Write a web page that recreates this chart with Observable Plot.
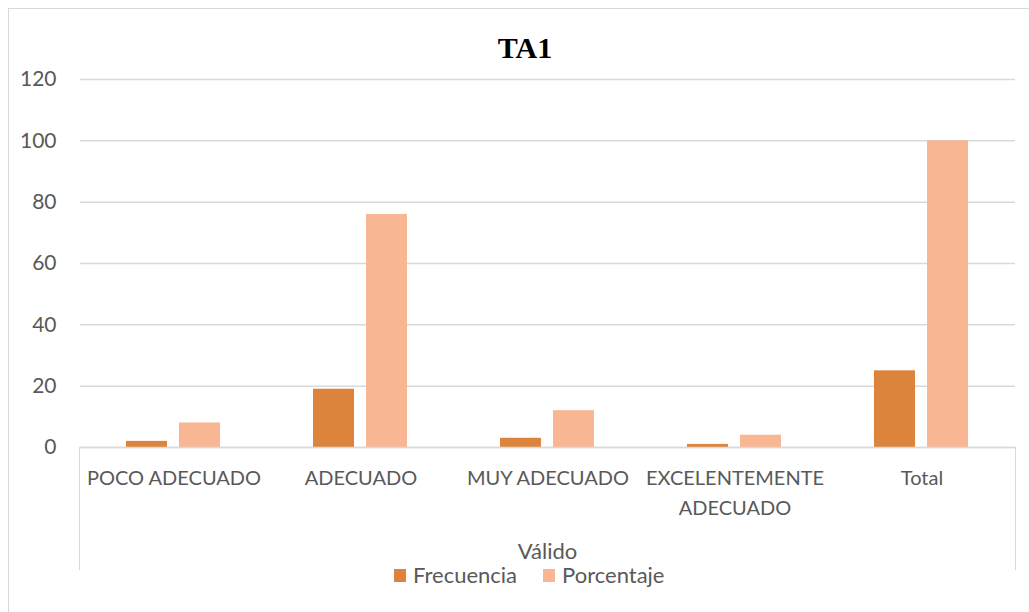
<!DOCTYPE html>
<html>
<head>
<meta charset="utf-8">
<script src="https://cdn.jsdelivr.net/npm/d3@7"></script>
<script src="https://cdn.jsdelivr.net/npm/@observablehq/plot@0.6"></script>
<style>
  html, body { margin: 0; padding: 0; background: #fff; overflow: hidden; }
  #wrap { position: relative; width: 1029px; height: 612px; overflow: hidden; font-family: Lato, "Open Sans", sans-serif; color: #595959; }
  #frame { position: absolute; left: 8px; top: 8px; width: 1100px; height: 700px; border: 1px solid #d9d9d9; box-sizing: border-box; }
  #title { position: absolute; left: 0; width: 1050px; top: 31px; text-align: center; font-family: "Liberation Serif", "DejaVu Serif", serif; font-weight: bold; font-size: 30px; color: #000; line-height: 34px; }
  .vline { position: absolute; width: 0; border-left: 1.5px solid #d9d9d9; top: 447px; height: 123px; }
  #group { position: absolute; left: 79px; width: 937px; top: 538px; text-align: center; font-size: 22px; line-height: 26px; }
  #legend { position: absolute; left: 394px; top: 562px; font-size: 22px; line-height: 26px; display: flex; align-items: center; white-space: nowrap; }
  .sw { display: inline-block; width: 12px; height: 13px; margin-right: 7px; }
  .item { display: flex; align-items: center; margin-right: 26px; }
  #chart { position: absolute; left: 0; top: 0; }
</style>
</head>
<body>
<div id="wrap">
  <div id="frame"></div>
  <div id="chart"></div>
  <div id="title"></div>
  <div class="vline" style="left:79px"></div>
  <div class="vline" style="left:1015px"></div>
  <div id="group"></div>
  <div id="legend"></div>
</div>
<script>
const title = "TA1";
const groupLabel = "Válido";
const categories = ["POCO ADECUADO", "ADECUADO", "MUY ADECUADO", "EXCELENTEMENTE ADECUADO", "Total"];
const categoryLabels = ["POCO ADECUADO", "ADECUADO", "MUY ADECUADO", "EXCELENTEMENTE\nADECUADO", "Total"];
const series = ["Frecuencia", "Porcentaje"];
const frecuencia = [2, 19, 3, 1, 25];
const porcentaje = [8, 76, 12, 4, 100];
const yTicks = [0, 20, 40, 60, 80, 100, 120];
const colors = ["#DD843C", "#F8B692"];

const values = {Frecuencia: frecuencia, Porcentaje: porcentaje};
const data = categories.flatMap((c, i) => series.map(s => ({cat: c, s, v: values[s][i]})));
const labelOf = new Map(categories.map((c, i) => [c, categoryLabels[i]]));

const chart = Plot.plot({
  width: 1029,
  height: 612,
  marginTop: 79,
  marginBottom: 165,
  marginLeft: 79,
  marginRight: 13,
  style: {fontFamily: "Lato, 'Open Sans', sans-serif", fontSize: "20px", color: "#595959", background: "transparent", overflow: "visible"},
  fx: {domain: categories, padding: 0, label: null, axis: null},
  x: {domain: series, paddingInner: 0.222, paddingOuter: 0.846, axis: null, label: null},
  y: {domain: [0, 120], label: null},
  color: {domain: series, range: colors},
  marks: [
    Plot.gridY(yTicks, {stroke: "#d9d9d9", strokeOpacity: 1, strokeWidth: 1.5}),
    Plot.axisY(yTicks, {tickSize: 0, tickPadding: 24, fontSize: 21, label: null}),
    Plot.barY(data, {fx: "cat", x: "s", y: "v", fill: "s"}),
    Plot.ruleY([0], {stroke: "#d9d9d9", strokeWidth: 1.5}),
    Plot.axisFx({anchor: "bottom", tickSize: 0, tickPadding: 16, fontSize: 20, lineHeight: 1.5, label: null, tickFormat: d => labelOf.get(d)})
  ]
});
document.getElementById("chart").appendChild(chart);
document.getElementById("title").textContent = title;
document.getElementById("group").textContent = groupLabel;
const legend = document.getElementById("legend");
series.forEach((s, i) => {
  const item = document.createElement("span");
  item.className = "item";
  const sw = document.createElement("span");
  sw.className = "sw";
  sw.style.background = colors[i];
  item.appendChild(sw);
  item.appendChild(document.createTextNode(s));
  legend.appendChild(item);
});
</script>
</body>
</html>
